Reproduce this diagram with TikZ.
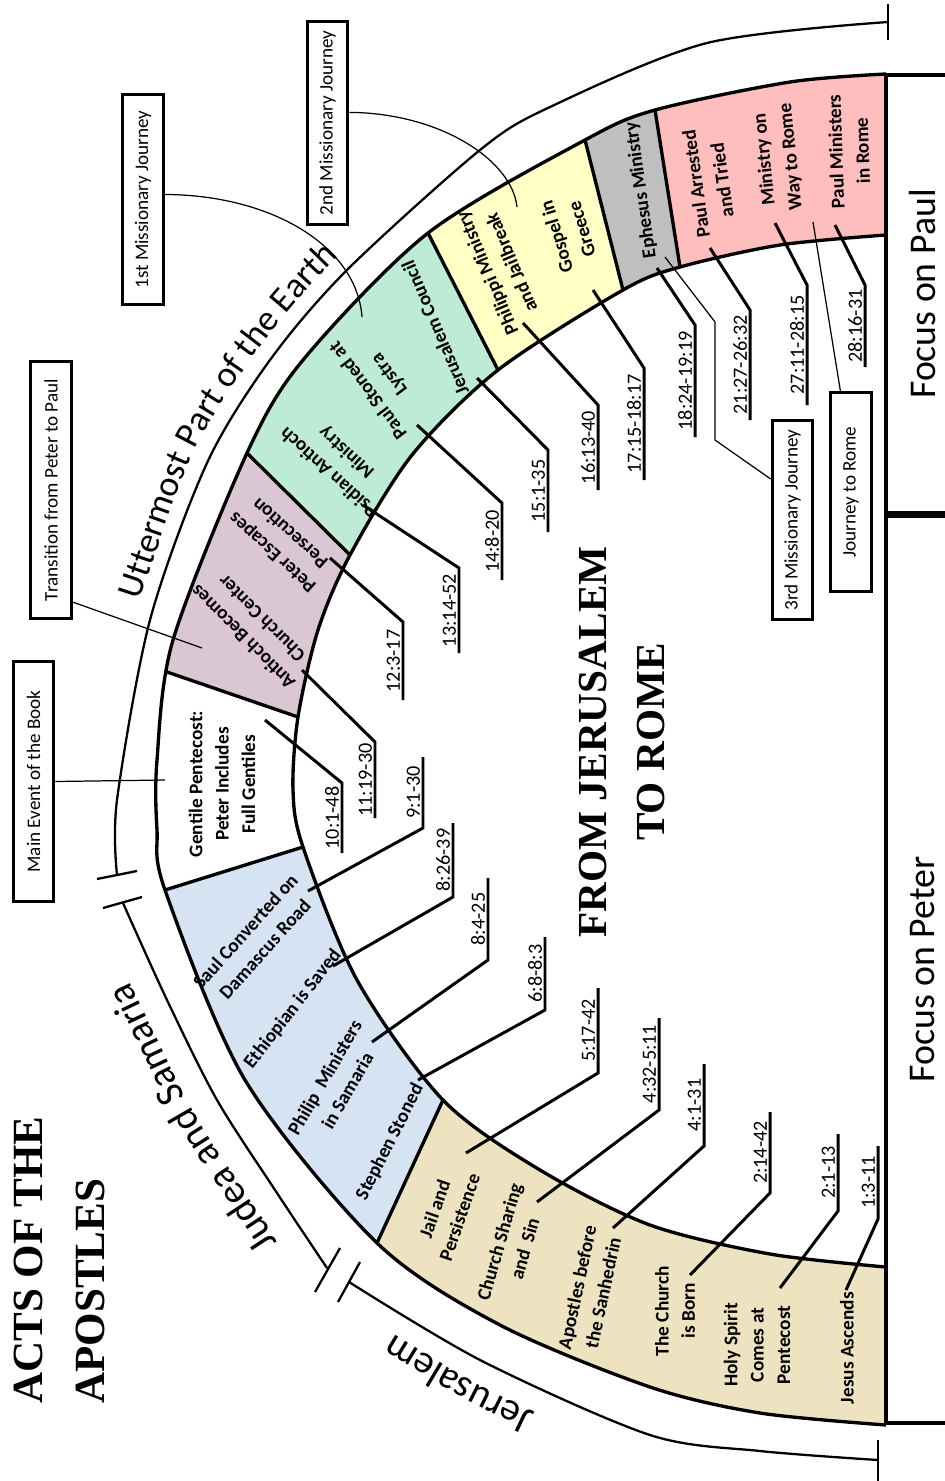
\documentclass[tikz,border=0pt]{standalone}
\usepackage{fontspec}
\setmainfont{Carlito}
\newfontfamily\timesfont{Liberation Serif}
\usetikzlibrary{calc,decorations.text}

\definecolor{tanfill}{RGB}{238,227,193}
\definecolor{bluefill}{RGB}{213,227,243}
\definecolor{mauvefill}{RGB}{219,199,211}
\definecolor{greenfill}{RGB}{190,235,213}
\definecolor{yellowfill}{RGB}{255,255,197}
\definecolor{greyfill}{RGB}{191,191,191}
\definecolor{redfill}{RGB}{255,190,190}

\newcommand{\arcfont}{\fontsize{22.5}{22.5}\selectfont}
\newcommand{\arcfontsmall}{\fontsize{20.5}{20.5}\selectfont}

\begin{document}
\begin{tikzpicture}[x=0.02cm, y=-0.02cm,
    bandline/.style = {line width=1.9pt},
    arcline/.style = {line width=1.3pt},
    leader/.style = {line width=1.7pt},
    thinline/.style = {line width=0.7pt},
    event/.style = {font=\fontsize{11}{15}\selectfont\bfseries, align=center, inner sep=0pt},
    ref/.style = {font=\fontsize{11.5}{13}\selectfont, rotate=90, anchor=south, inner sep=1.5pt},
    callout/.style = {draw, line width=1.8pt, rotate=90, inner sep=0pt, minimum height=23pt, font=\fontsize{10.9}{13}\selectfont},
    focus/.style = {draw, line width=2pt, rotate=90, inner sep=0pt, minimum height=42pt, font=\fontsize{21.5}{24}\selectfont},
    arclabel/.style = {decorate, decoration={text along path, text align=left}}
  ]
  \useasboundingbox (0,0) rectangle (944,1481);

  \coordinate (o0) at (886,74);   \coordinate (i0) at (886,235);
  \coordinate (o1) at (655,110);  \coordinate (i1) at (680,267);
  \coordinate (o2) at (585,140);  \coordinate (i2) at (623,290);
  \coordinate (o3) at (428,233);  \coordinate (i3) at (498,370);
  \coordinate (o4) at (247,453);  \coordinate (i4) at (350,555);
  \coordinate (o5) at (167,672);  \coordinate (i5) at (298,717);
  \coordinate (o6) at (165,890);  \coordinate (i6) at (303,847);
  \coordinate (o7) at (377,1243); \coordinate (i7) at (443,1100);
  \coordinate (o8) at (886,1425); \coordinate (i8) at (886,1267);

  \begin{scope}
    \clip plot[smooth] coordinates {(886,74) (790,82) (655,110) (585,140) (428,233) (303,360) (247,453) (173,640) (157,760) (157,830) (165,890) (245,1080) (377,1243) (500,1325) (650,1387) (760,1413) (886,1425)}
      -- plot[smooth] coordinates {(886,1267) (770,1254) (650,1225) (540,1170) (443,1100) (357,980) (303,847) (293,790) (298,717) (318,630) (350,555) (412,455) (498,370) (623,290) (680,267) (780,245) (886,235)} -- cycle;
    \fill[redfill] ($(i0)!3!(o0)$) -- ($(o0)!2.2!(i0)$) -- ($(o1)!2.2!(i1)$) -- ($(i1)!3!(o1)$) -- cycle;
    \fill[greyfill] ($(i1)!3!(o1)$) -- ($(o1)!2.2!(i1)$) -- ($(o2)!2.2!(i2)$) -- ($(i2)!3!(o2)$) -- cycle;
    \fill[yellowfill] ($(i2)!3!(o2)$) -- ($(o2)!2.2!(i2)$) -- ($(o3)!2.2!(i3)$) -- ($(i3)!3!(o3)$) -- cycle;
    \fill[greenfill] ($(i3)!3!(o3)$) -- ($(o3)!2.2!(i3)$) -- ($(o4)!2.2!(i4)$) -- ($(i4)!3!(o4)$) -- cycle;
    \fill[mauvefill] ($(i4)!3!(o4)$) -- ($(o4)!2.2!(i4)$) -- ($(o5)!2.2!(i5)$) -- ($(i5)!3!(o5)$) -- cycle;
    \fill[bluefill] ($(i6)!3!(o6)$) -- ($(o6)!2.2!(i6)$) -- ($(o7)!2.2!(i7)$) -- ($(i7)!3!(o7)$) -- cycle;
    \fill[tanfill] ($(i7)!3!(o7)$) -- ($(o7)!2.2!(i7)$) -- ($(o8)!2.2!(i8)$) -- ($(i8)!3!(o8)$) -- cycle;
    \draw[bandline] ($(o1)!-0.3!(i1)$) -- ($(i1)!-0.3!(o1)$);
    \draw[bandline] ($(o2)!-0.3!(i2)$) -- ($(i2)!-0.3!(o2)$);
    \draw[bandline] ($(o3)!-0.3!(i3)$) -- ($(i3)!-0.3!(o3)$);
    \draw[bandline] ($(o4)!-0.3!(i4)$) -- ($(i4)!-0.3!(o4)$);
    \draw[bandline] ($(o5)!-0.3!(i5)$) -- ($(i5)!-0.3!(o5)$);
    \draw[bandline] ($(o6)!-0.3!(i6)$) -- ($(i6)!-0.3!(o6)$);
    \draw[bandline] ($(o7)!-0.3!(i7)$) -- ($(i7)!-0.3!(o7)$);
  \end{scope}
  \draw[bandline] plot[smooth] coordinates {(886,74) (790,82) (655,110) (585,140) (428,233) (303,360) (247,453) (173,640) (157,760) (157,830) (165,890) (245,1080) (377,1243) (500,1325) (650,1387) (760,1413) (886,1425)};
  \draw[bandline] plot[smooth] coordinates {(886,235) (780,245) (680,267) (623,290) (498,370) (412,455) (350,555) (318,630) (298,717) (293,790) (303,847) (357,980) (443,1100) (540,1170) (650,1225) (770,1254) (886,1267)};

  \node[focus, minimum width=249.4pt] (paulbox) at (923,294) {Focus on Paul};
  \node[focus, minimum width=516.4pt] (peterbox) at (923,969.5) {Focus on Peter};

  \draw[arcline] plot[smooth] coordinates {(888,22) (707,43) (550,107) (480,150) (347,270) (270,360) (207,463) (150,620) (117,800) (117,875)};
  \draw[arcline] plot[smooth] coordinates {(123,903) (167,1000) (217,1100) (277,1193) (327,1268)};
  \draw[arcline] plot[smooth] coordinates {(349,1282) (482,1361) (650,1435) (760,1451) (878,1460)};
  \draw[arcline] (888,4) -- (888,40);
  \draw[arcline] (878,1440) -- (878,1481);
  \draw[arcline] (97,879) -- (137,871);
  \draw[arcline] (103,908) -- (142,897);
  \draw[arcline] (315,1292) -- (340,1248);
  \draw[arcline] (338,1302) -- (360,1262);

  \path[arclabel, decoration={text={|\arcfont|Jerusalem}}] plot[smooth] coordinates {(535,1412) (472,1381) (400,1338) (339,1299) (300,1272)};
  \path[arclabel, decoration={text={|\arcfont|Judea and Samaria}}] plot[smooth] coordinates {(278,1242) (255,1207) (194,1113) (144,1011) (100,917) (88,880)};
  \path[arclabel, decoration={text={|\arcfontsmall|Uttermost Part of the Earth}}] plot[smooth] coordinates {(140,600) (192,456) (257,351) (336,259) (470,137) (560,90)};

  \node[font=\timesfont\bfseries\fontsize{24.5}{35}\selectfont, rotate=90, anchor=north west, align=left, inner sep=0pt] (title) at (14,1404) {ACTS OF THE\\APOSTLES};
  \node[font=\timesfont\bfseries\fontsize{23.5}{33.5}\selectfont, rotate=90, align=center, inner sep=0pt] (motto) at (622,742) {FROM JERUSALEM\\TO ROME};

  \node[event, rotate=90] (jesus) at (847,1348) {Jesus Ascends};
  \node[event, rotate=90] (spirit) at (757,1345) {Holy Spirit\\Comes at\\Pentecost};
  \node[event, rotate=90] (born) at (675,1311) {The Church\\is Born};
  \node[event, rotate=78] (sanhedrin) at (590,1290) {Apostles before\\the Sanhedrin};
  \node[event, rotate=74] (sharing) at (512,1245) {Church Sharing\\and\ \ Sin};
  \node[event, rotate=71] (jail) at (447,1213) {Jail and\\Persistence};
  \node[event, rotate=63] (stephen) at (390,1142) {Stephen Stoned};
  \node[event, rotate=60] (philip) at (336,1084) {Philip\ \ Ministers\\in Samaria};
  \node[event, rotate=52] (ethiopian) at (293,1009) {Ethiopian is Saved};
  \node[event, rotate=48] (saul) at (255,940) {Saul Converted on\\Damascus Road};
  \node[event, rotate=90] (gentile) at (222,784) {Gentile Pentecost:\\Peter Includes\\Full Gentiles};
  \node[event, rotate=135] (antioch) at (252,628) {Antioch Becomes\\Church Center};
  \node[event, rotate=138] (escapes) at (281,543) {Peter Escapes\\Persecution};
  \node[event, rotate=138] (psidian) at (338,462) {Psidian Antioch\\Ministry};
  \node[event, rotate=127] (lystra) at (379,382) {Paul Stoned at\\Lystra};
  \node[event, rotate=113] (council) at (435,328) {Jerusalem Council};
  \node[event, rotate=113] (philippi) at (499,268) {Philippi Ministry\\and Jailbreak};
  \node[event, rotate=107] (greece) at (569,233) {Gospel in\\Greece};
  \node[event, rotate=98] (ephesus) at (641,190) {Ephesus Ministry};
  \node[event, rotate=98] (arrested) at (709,182) {Paul Arrested\\and Tried};
  \node[event, rotate=96] (wayrome) at (778,158) {Ministry on\\Way to Rome};
  \node[event, rotate=92] (inrome) at (849,151) {Paul Ministers\\in Rome};

  \coordinate (e1) at (846,1290);  \coordinate (k1) at (878,1219);  \coordinate (u1) at (878,1146);
  \coordinate (e2) at (780,1288);  \coordinate (k2) at (838,1211);  \coordinate (u2) at (838,1134);
  \coordinate (e3) at (690,1275);  \coordinate (k3) at (770,1193);  \coordinate (u3) at (770,1112);
  \coordinate (e4) at (613,1228);  \coordinate (k4) at (704,1146);  \coordinate (u4) at (704,1064);
  \coordinate (e5) at (537,1202);  \coordinate (k5) at (659,1110);  \coordinate (u5) at (659,1018);
  \coordinate (e6) at (466,1153);  \coordinate (k6) at (598,1073);  \coordinate (u6) at (598,988);
  \coordinate (e7) at (418,1080);  \coordinate (k7) at (545,1010);  \coordinate (u7) at (545,937);
  \coordinate (e8) at (372,1042);  \coordinate (k8) at (488,960);   \coordinate (u8) at (488,878);
  \coordinate (e9) at (333,966);   \coordinate (k9) at (453,897);   \coordinate (u9) at (453,823);
  \coordinate (e10) at (308,891);  \coordinate (k10) at (423,828);  \coordinate (u10) at (423,757);
  \coordinate (e11) at (265,720);  \coordinate (k11) at (342,783);  \coordinate (u11) at (342,853);
  \coordinate (e12) at (302,670);  \coordinate (k12) at (375,742);  \coordinate (u12) at (375,818);
  \coordinate (e13) at (330,558);  \coordinate (k13) at (403,622);  \coordinate (u13) at (403,700);
  \coordinate (e14) at (363,505);  \coordinate (k14) at (459,568);  \coordinate (u14) at (459,653);
  \coordinate (e15) at (417,425);  \coordinate (k15) at (502,503);  \coordinate (u15) at (502,580);
  \coordinate (e16) at (477,378);  \coordinate (k16) at (548,450);  \coordinate (u16) at (548,532);
  \coordinate (e17) at (523,323);  \coordinate (k17) at (598,405);  \coordinate (u17) at (598,490);
  \coordinate (e18) at (593,290);  \coordinate (k18) at (644,368);  \coordinate (u18) at (644,480);
  \coordinate (e19) at (657,268);  \coordinate (k19) at (695,325);  \coordinate (u19) at (695,437);
  \coordinate (e20) at (710,248);  \coordinate (k20) at (750,310);  \coordinate (u20) at (750,420);
  \coordinate (e21) at (775,223);  \coordinate (k21) at (807,285);  \coordinate (u21) at (807,405);
  \coordinate (e22) at (835,225);  \coordinate (k22) at (865,285);  \coordinate (u22) at (865,367);

  \draw[leader] (e1) -- (k1) -- (u1);    \node[ref] (r1) at ($(k1)!.5!(u1)$) {1:3-11};
  \draw[leader] (e2) -- (k2) -- (u2);    \node[ref] (r2) at ($(k2)!.5!(u2)$) {2:1-13};
  \draw[leader] (e3) -- (k3) -- (u3);    \node[ref] (r3) at ($(k3)!.5!(u3)$) {2:14-42};
  \draw[leader] (e4) -- (k4) -- (u4);    \node[ref] (r4) at ($(k4)!.5!(u4)$) {4:1-31};
  \draw[leader] (e5) -- (k5) -- (u5);    \node[ref] (r5) at ($(k5)!.5!(u5)$) {4:32-5:11};
  \draw[leader] (e6) -- (k6) -- (u6);    \node[ref] (r6) at ($(k6)!.5!(u6)$) {5:17-42};
  \draw[leader] (e7) -- (k7) -- (u7);    \node[ref] (r7) at ($(k7)!.5!(u7)$) {6:8-8:3};
  \draw[leader] (e8) -- (k8) -- (u8);    \node[ref] (r8) at ($(k8)!.5!(u8)$) {8:4-25};
  \draw[leader] (e9) -- (k9) -- (u9);    \node[ref] (r9) at ($(k9)!.5!(u9)$) {8:26-39};
  \draw[leader] (e10) -- (k10) -- (u10); \node[ref] (r10) at ($(k10)!.5!(u10)$) {9:1-30};
  \draw[leader] (e11) -- (k11) -- (u11); \node[ref] (r11) at ($(k11)!.5!(u11)$) {10:1-48};
  \draw[leader] (e12) -- (k12) -- (u12); \node[ref] (r12) at ($(k12)!.5!(u12)$) {11:19-30};
  \draw[leader] (e13) -- (k13) -- (u13); \node[ref] (r13) at ($(k13)!.5!(u13)$) {12:3-17};
  \draw[leader] (e14) -- (k14) -- (u14); \node[ref] (r14) at ($(k14)!.5!(u14)$) {13:14-52};
  \draw[leader] (e15) -- (k15) -- (u15); \node[ref] (r15) at ($(k15)!.5!(u15)$) {14:8-20};
  \draw[leader] (e16) -- (k16) -- (u16); \node[ref] (r16) at ($(k16)!.5!(u16)$) {15:1-35};
  \draw[leader] (e17) -- (k17) -- (u17); \node[ref] (r17) at ($(k17)!.5!(u17)$) {16:13-40};
  \draw[leader] (e18) -- (k18) -- (u18); \node[ref] (r18) at ($(k18)!.5!(u18)$) {17:15-18:17};
  \draw[leader] (e19) -- (k19) -- (u19); \node[ref] (r19) at ($(k19)!.5!(u19)$) {18:24-19:19};
  \draw[leader] (e20) -- (k20) -- (u20); \node[ref] (r20) at ($(k20)!.5!(u20)$) {21:27-26:32};
  \draw[leader] (e21) -- (k21) -- (u21); \node[ref] (r21) at ($(k21)!.5!(u21)$) {27:11-28:15};
  \draw[leader] (e22) -- (k22) -- (u22); \node[ref] (r22) at ($(k22)!.5!(u22)$) {28:16-31};

  \node[callout, minimum width=136.6pt] (mainbox) at (33.5,781.5) {Main Event of the Book};
  \node[callout, minimum width=146.3pt] (transbox) at (51,490) {Transition from Peter to Paul};
  \node[callout, minimum width=119.6pt] (firstbox) at (143,199.5) {1st Missionary Journey};
  \node[callout, minimum width=115.6pt] (secondbox) at (327.5,123) {2nd Missionary Journey};
  \node[callout, minimum width=113.4pt] (thirdbox) at (792.5,520) {3rd Missionary Journey};
  \node[callout, minimum width=113.4pt] (romebox) at (851,492) {Journey to Rome};

  \coordinate (mainend) at (165,780);
  \coordinate (transend) at (202,648);
  \coordinate (firstend) at (362,317);
  \coordinate (secondend) at (517,207);
  \coordinate (thirdstart) at (665,257);
  \coordinate (thirdbendA) at (715,322);
  \coordinate (thirdbendB) at (715,440);
  \coordinate (romestart) at (813,222);
  \draw[thinline] (mainbox.south) -- (mainend);
  \draw[thinline] (transbox.191) -- (transend);
  \draw[thinline] (firstbox.-77) .. controls (273,195) and (357,247) .. (firstend);
  \draw[thinline] (secondbox.-64) .. controls (440,113) and (512,160) .. (secondend);
  \draw[thinline] (thirdstart) -- (thirdbendA) -- (thirdbendB) -- (thirdbox.28);
  \draw[thinline] (romestart) -- (romebox.6);
\end{tikzpicture}
\end{document}
